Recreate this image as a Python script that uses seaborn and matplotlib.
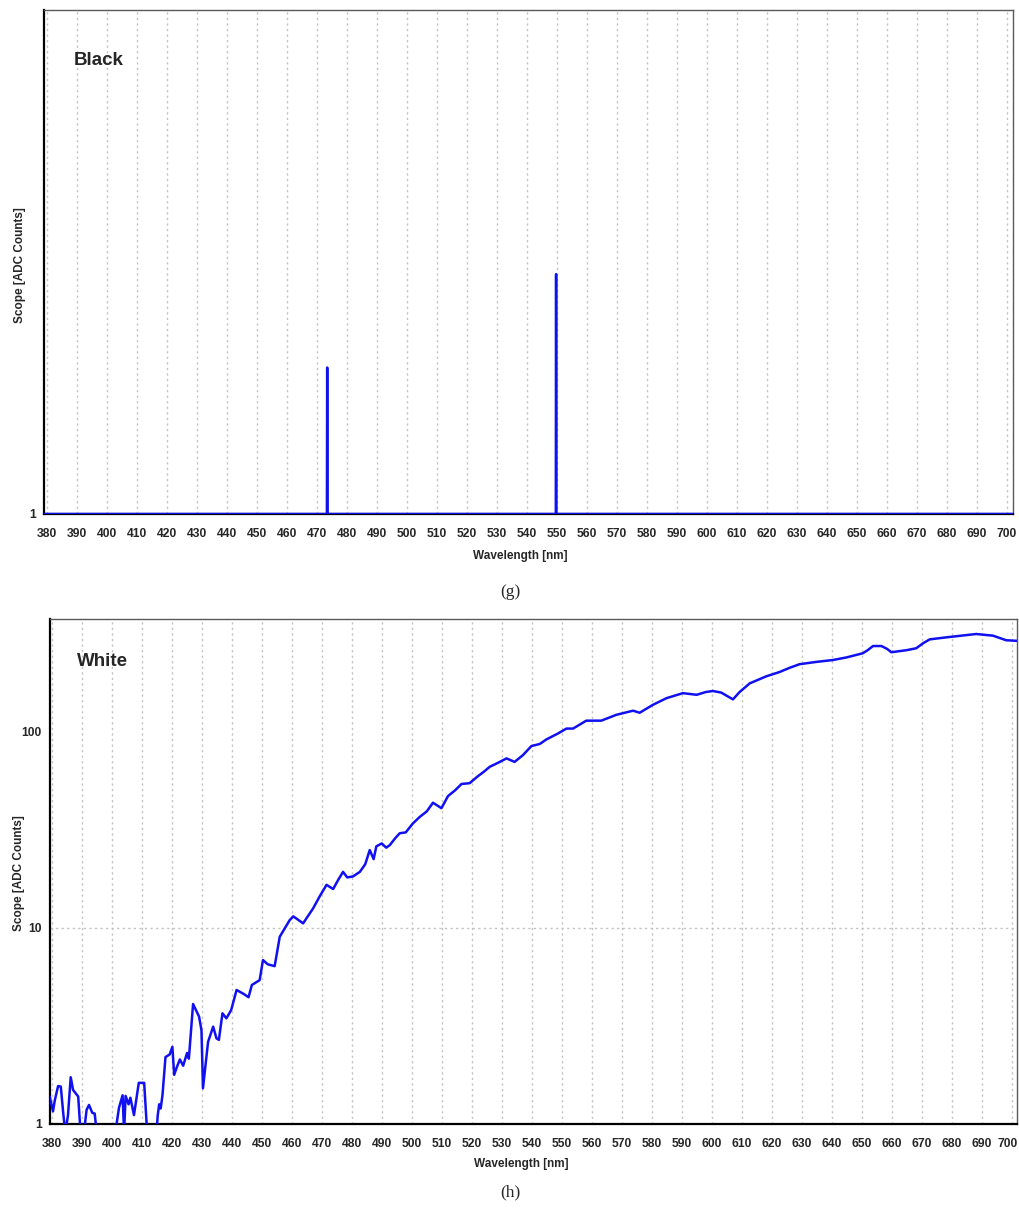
import matplotlib
matplotlib.use("Agg")
import matplotlib.pyplot as plt
import matplotlib.transforms as mtransforms
from matplotlib.ticker import FixedLocator, MultipleLocator, NullLocator, NullFormatter, FixedFormatter
import pandas as pd
import seaborn as sns

# ---- data -------------------------------------------------------------
tick_nm = list(range(380, 701, 10))

# "Black" sample: flat floor with two narrow emission lines
black_nm = [379.0, 473.4, 473.5, 473.6, 549.7, 549.8, 549.9, 702.0]
black_counts = [1, 1, 1.83, 1, 1, 2.69, 1, 1]

# "White" sample: broadband reflectance spectrum (values < 1 sit below the log floor)
white_nm = [
    379.3, 380.4, 381.0, 382.1, 383.0, 383.8, 384.5, 385.4, 386.3, 387.1,
    388.8, 389.6, 390.7, 391.6, 392.4, 393.5, 394.3, 395.0, 401.0, 401.6,
    402.4, 403.6, 404.1, 404.6, 405.6, 406.2, 407.4, 409.0, 410.8, 411.8,
    414.9, 415.3, 415.8, 416.3, 416.9, 417.9, 419.3, 420.2, 420.8, 421.7,
    422.7, 423.8, 425.1, 425.7, 427.1, 429.1, 429.9, 430.4, 432.1, 433.8,
    434.9, 435.7, 436.9, 438.2, 439.8, 441.6, 443.9, 445.6, 446.7, 449.3,
    450.4, 452.0, 454.3, 456.0, 459.3, 460.5, 461.6, 463.8, 465.0, 467.1,
    469.3, 471.6, 473.8, 475.5, 477.1, 478.5, 480.4, 482.7, 484.5, 486.0,
    487.3, 488.2, 490.0, 491.5, 492.7, 494.5, 496.0, 498.0, 500.4, 502.7,
    505.0, 507.1, 509.9, 512.1, 514.5, 516.6, 519.3, 522.1, 524.0, 526.0,
    528.8, 531.6, 534.3, 537.1, 539.9, 542.7, 544.9, 548.8, 551.6, 553.8,
    558.2, 563.2, 568.2, 573.8, 576.0, 580.4, 584.9, 590.4, 595.0, 598.0,
    600.4, 603.2, 607.1, 609.3, 612.7, 618.2, 622.7, 626.0, 629.3, 634.9,
    640.4, 644.9, 650.4, 652.0, 653.8, 656.6, 658.5, 659.9, 664.9, 668.2,
    670.5, 672.7, 678.2, 684.9, 688.2, 693.8, 698.2, 701.8,
]
white_counts = [
    1.38, 1.16, 1.32, 1.56, 1.55, 1.14, 0.9, 1.11, 1.73, 1.49,
    1.38, 0.9, 0.9, 1.18, 1.25, 1.14, 1.13, 0.9, 0.9, 1.0,
    1.21, 1.40, 0.9, 1.39, 1.26, 1.36, 1.11, 1.62, 1.62, 0.9,
    0.9, 1.10, 1.26, 1.20, 1.40, 2.19, 2.26, 2.47, 1.78, 1.95,
    2.13, 1.98, 2.30, 2.15, 4.08, 3.52, 3.00, 1.52, 2.62, 3.13,
    2.73, 2.68, 3.66, 3.45, 3.80, 4.81, 4.60, 4.42, 5.10, 5.40,
    6.83, 6.50, 6.36, 8.98, 10.9, 11.4, 11.1, 10.5, 11.2, 12.5,
    14.4, 16.5, 15.7, 17.5, 19.2, 18.0, 18.2, 19.2, 21.0, 24.8,
    22.3, 25.9, 26.8, 25.5, 26.3, 28.5, 30.2, 30.5, 33.9, 36.6,
    39.0, 43.2, 40.5, 46.7, 50.0, 53.8, 54.3, 59.0, 62.0, 65.8,
    69.0, 72.6, 69.7, 75.5, 83.9, 86.0, 90.7, 97.3, 103, 103,
    113, 113, 121, 127, 124, 136, 147, 156, 153, 158,
    160, 157, 145, 158, 175, 190, 200, 210, 219, 225,
    230, 237, 249, 258, 271, 271, 262, 252, 258, 264,
    280, 293, 300, 308, 312, 306, 290, 288,
]

black_df = pd.DataFrame({"nm": black_nm, "counts": black_counts})
white_df = pd.DataFrame({"nm": white_nm, "counts": white_counts})

# ---- style ------------------------------------------------------------
sns.set_style("white")
plt.rcParams["font.family"] = ["Liberation Sans", "DejaVu Sans"]
plt.rcParams["font.weight"] = "bold"
plt.rcParams["axes.labelweight"] = "bold"

LINE_BLUE = "#1010f0"
GRID = "#c2c2c2"

fig = plt.figure(figsize=(10.19, 12.11), dpi=100)
W, H = 1019, 1211
ax_g = fig.add_axes([44 / W, 1 - 514 / H, (1013 - 44) / W, (514 - 10) / H])
ax_h = fig.add_axes([50 / W, 1 - 1124 / H, (1017 - 50) / W, (1124 - 619) / H])


def dress(ax, xlim):
    ax.set_xlim(*xlim)
    ax.set_yscale("log")
    ax.xaxis.set_major_locator(FixedLocator(tick_nm))
    ax.xaxis.set_minor_locator(MultipleLocator(2))
    ax.grid(False)
    ax.grid(axis="x", which="major", color=GRID, linestyle=(0, (1.6, 2.4)), linewidth=1.0)
    for side in ("left", "bottom"):
        ax.spines[side].set_color("black")
        ax.spines[side].set_linewidth(1.6)
    for side in ("top", "right"):
        ax.spines[side].set_color("#5a5a5a")
        ax.spines[side].set_linewidth(1.0)
    ax.tick_params(axis="x", which="major", direction="out", length=3, width=0.8,
                   color="#777777", labelsize=8.7, pad=7)
    ax.tick_params(axis="x", which="minor", direction="out", length=2, width=0.6,
                   color="#888888")
    ax.tick_params(axis="y", which="major", direction="out", length=3, width=0.8,
                   color="#777777", labelsize=8.7, pad=3)
    ax.yaxis.set_minor_locator(NullLocator())
    ax.yaxis.set_minor_formatter(NullFormatter())
    ax.set_xlabel("Wavelength [nm]", fontsize=8.5, fontweight="bold")
    ax.set_ylabel("Scope [ADC Counts]", fontsize=8.5, fontweight="bold")


# (g) Black
sns.lineplot(data=black_df, x="nm", y="counts", ax=ax_g, color=LINE_BLUE,
             linewidth=1.8, estimator=None, sort=False, zorder=3)
dress(ax_g, (379.1, 702.1))
ax_g.set_ylim(1, 8)
ax_g.yaxis.set_major_locator(FixedLocator([1]))
ax_g.yaxis.set_major_formatter(FixedFormatter(["1"]))
ax_g.xaxis.set_label_coords(0.491, -0.0714)
ax_g.yaxis.set_label_coords(-0.019, 0.494)
ax_g.text(0.031, 0.9, "Black", transform=ax_g.transAxes, fontsize=13.5,
          fontweight="bold", ha="left", va="center")

# (h) White
sns.lineplot(data=white_df, x="nm", y="counts", ax=ax_h, color=LINE_BLUE,
             linewidth=1.8, estimator=None, sort=False, zorder=3)
dress(ax_h, (379.4, 701.8))
ax_h.set_ylim(1, 372)
ax_h.yaxis.set_major_locator(FixedLocator([1, 10, 100]))
ax_h.yaxis.set_major_formatter(FixedFormatter(["1", "10", "100"]))
ax_h.axhline(10, color=GRID, linestyle=(0, (1.6, 2.4)), linewidth=1.0, zorder=0)
ax_h.xaxis.set_label_coords(0.487, -0.067)
ax_h.yaxis.set_label_coords(-0.026, 0.497)
ax_h.text(0.028, 0.916, "White", transform=ax_h.transAxes, fontsize=13.5,
          fontweight="bold", ha="left", va="center")

# nudge the last wavelength label of the lower panel so it stays inside the figure
fig.canvas.draw()
last = ax_h.xaxis.get_major_ticks()[-1].label1
last.set_transform(last.get_transform()
                   + mtransforms.ScaledTranslation(-4 / 100, 0, fig.dpi_scale_trans))

# panel captions
for label, ypix in (("(g)", 592), ("(h)", 1192)):
    fig.text(510 / W, 1 - ypix / H, label, ha="center", va="center",
             fontsize=12.5, fontweight="normal",
             family=["Liberation Serif", "DejaVu Serif"])

fig.savefig("out.png", dpi=100, facecolor="white")
